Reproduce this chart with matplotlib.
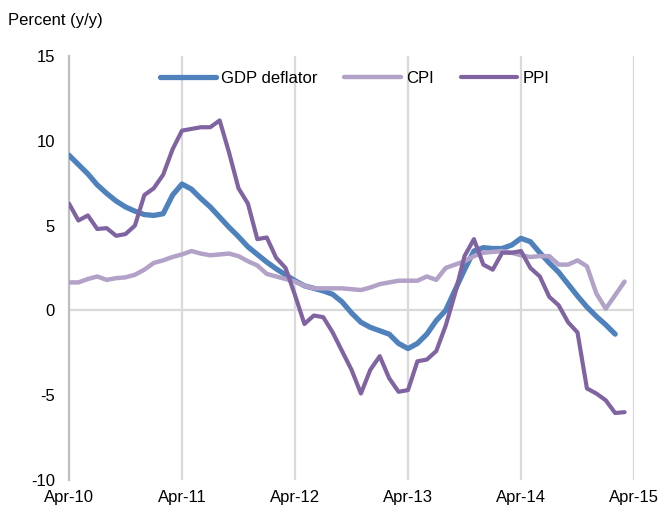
import matplotlib
matplotlib.use("Agg")
import matplotlib.pyplot as plt
import numpy as np

plt.rcParams['font.family'] = ['Liberation Sans', 'DejaVu Sans']
plt.rcParams['axes.unicode_minus'] = False

# Monthly observations starting Apr-2010
x_labels = ["Apr-10", "Apr-11", "Apr-12", "Apr-13", "Apr-14", "Apr-15"]

gdp_deflator = [9.15, 8.6, 8.05, 7.4, 6.9, 6.45, 6.1, 5.85, 5.65, 5.6, 5.7, 6.8,
                7.45, 7.15, 6.6, 6.1, 5.5, 4.9, 4.35, 3.75, 3.3, 2.85, 2.45, 2.1,
                1.75, 1.45, 1.3, 1.15, 0.95, 0.5, -0.15, -0.7, -1.0, -1.2, -1.4, -1.95,
                -2.25, -1.95, -1.4, -0.6, 0.0, 1.2, 2.4, 3.5, 3.7, 3.65, 3.65, 3.85,
                4.25, 4.05, 3.4, 2.8, 2.25, 1.55, 0.85, 0.2, -0.35, -0.85, -1.4]

cpi = [1.65, 1.65, 1.85, 2.0, 1.8, 1.9, 1.95, 2.1, 2.4, 2.8, 2.95, 3.15,
       3.3, 3.5, 3.35, 3.25, 3.3, 3.35, 3.2, 2.9, 2.65, 2.15, 2.0, 1.85,
       1.7, 1.45, 1.3, 1.3, 1.3, 1.3, 1.25, 1.2, 1.35, 1.55, 1.65, 1.75,
       1.75, 1.75, 2.0, 1.8, 2.5, 2.7, 2.9, 3.2, 3.4, 3.45, 3.5, 3.4,
       3.25, 3.15, 3.2, 3.2, 2.7, 2.7, 2.95, 2.6, 1.0, 0.1, 0.9, 1.7]

ppi = [6.3, 5.3, 5.6, 4.8, 4.85, 4.4, 4.5, 5.0, 6.8, 7.2, 8.0, 9.5,
       10.6, 10.7, 10.8, 10.8, 11.2, 9.3, 7.2, 6.3, 4.2, 4.3, 3.1, 2.5,
       0.9, -0.8, -0.3, -0.4, -1.3, -2.4, -3.5, -4.9, -3.5, -2.7, -4.0, -4.8,
       -4.7, -3.0, -2.9, -2.4, -0.9, 1.0, 3.2, 4.2, 2.7, 2.4, 3.4, 3.4,
       3.5, 2.5, 2.0, 0.8, 0.3, -0.7, -1.3, -4.6, -4.9, -5.3, -6.05, -6.0]

series_names = ["GDP deflator", "CPI", "PPI"]
colors = ["#4F81BD", "#B3A2C7", "#8064A2"]
widths = [3.8, 3.2, 3.0]

fig = plt.figure(figsize=(6.64, 5.14), dpi=100)
ax = fig.add_axes([69/664, 34/514, 565/664, 424/514])

grid_c = "#D9D9D9"
for i in range(len(x_labels)):
    ax.axvline(i * 12, color=grid_c, lw=1.6, zorder=0)
ax.axhline(0, color=grid_c, lw=1.6, zorder=0)

for name, data, c, w in zip(series_names, [gdp_deflator, cpi, ppi], colors, widths):
    ax.plot(np.arange(len(data)), data, color=c, lw=w, label=name,
            solid_joinstyle='round', solid_capstyle='round', zorder=3)

ax.set_xlim(0, 60)
ax.set_ylim(-10, 15)
ax.set_xticks(np.arange(len(x_labels)) * 12)
ax.set_xticklabels(x_labels)
ax.set_yticks([-10, -5, 0, 5, 10, 15])
ax.tick_params(axis='both', length=0, labelsize=12, colors='black')
ax.tick_params(axis='x', pad=7)
ax.tick_params(axis='y', pad=10)
for s in ['top', 'right', 'bottom']:
    ax.spines[s].set_visible(False)
ax.spines['left'].set_color("#BFBFBF")
ax.spines['left'].set_linewidth(1.6)

fig.text(8/664, 1 - 20/514, "Percent (y/y)", fontsize=12, va='center', ha='left')

leg = ax.legend(loc='center', bbox_to_anchor=(0.505, 0.948), ncol=3, frameon=False,
                fontsize=12, handlelength=3.4, handletextpad=0.3, columnspacing=1.6)

fig.savefig("out.png", dpi=100)
